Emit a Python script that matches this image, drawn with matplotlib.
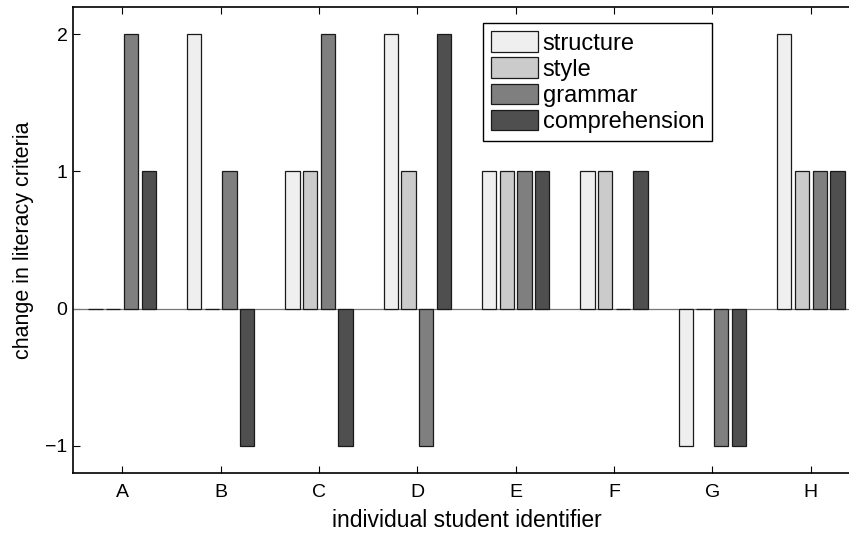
import numpy as np
import matplotlib.pyplot as plt

plt.rcParams['font.family'] = ['Liberation Sans', 'DejaVu Sans']

# change per student, one list per criterion
students = ['A', 'B', 'C', 'D', 'E', 'F', 'G', 'H']
structure = [0, 2, 1, 2, 1, 1, -1, 2]
style = [0, 0, 1, 1, 1, 1, 0, 1]
grammar = [2, 1, 2, -1, 1, 0, -1, 1]
comprehension = [1, -1, -1, 2, 1, 1, -1, 1]

series = [structure, style, grammar, comprehension]
names = ['structure', 'style', 'grammar', 'comprehension']
colors = ['#efefef', '#cbcbcb', '#7f7f7f', '#4f4f4f']

fig = plt.figure(figsize=(8.49, 5.36), dpi=100)
# right edge of the axes falls outside the figure, as in the cropped original
ax = fig.add_axes([73/849, 63/536, 787/849, 466/536])

x = np.arange(1, len(students) + 1)
offsets = [-0.27, -0.09, 0.09, 0.27]
for vals, nm, c, off in zip(series, names, colors, offsets):
    ax.bar(x + off, vals, width=0.145, color=c, edgecolor='#1a1a1a',
           linewidth=0.9, label=nm, zorder=3)

ax.axhline(0, color='#777777', linewidth=0.9, zorder=2)

ax.set_xlim(0.5, 8.5)
ax.set_ylim(-1.2, 2.2)
ax.set_xticks(x)
ax.set_xticklabels(students)
ax.set_yticks([-1, 0, 1, 2])
ax.set_yticklabels(['\u22121', '0', '1', '2'])
ax.tick_params(direction='in', top=True, right=True, length=5,
               width=0.8, labelsize=14)
ax.tick_params(axis='x', pad=8)
ax.tick_params(axis='y', pad=4)
for s in ax.spines.values():
    s.set_linewidth(1.2)

ax.set_xlabel('individual student identifier', fontsize=16.5, labelpad=6)
ax.set_ylabel('change in literacy criteria', fontsize=15.5, labelpad=8)

leg = ax.legend(loc='upper left', bbox_to_anchor=(483/849, 1 - 23/536),
                bbox_transform=fig.transFigure, fontsize=17, frameon=True,
                fancybox=False, edgecolor='black', framealpha=1,
                handlelength=2.0, handleheight=0.95, handletextpad=0.17,
                labelspacing=0.12, borderpad=0.35, borderaxespad=0)
leg.get_frame().set_linewidth(1.0)

fig.savefig('out.png', dpi=100)
